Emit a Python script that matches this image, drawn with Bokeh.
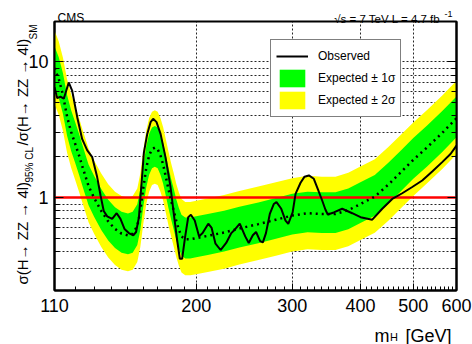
from bokeh.plotting import figure
from bokeh.layouts import column, row
from bokeh.models import (FixedTicker, PrintfTickFormatter, LogAxis, Label,
                          Legend, LegendItem, Range1d)
from bokeh.embed import file_html
from bokeh.resources import INLINE

# ---------------- data ----------------
mass_band = [110, 112, 114, 116, 118, 120, 122, 124, 127, 130, 134, 138, 142, 146,
             150, 153, 156, 158, 160, 162, 164, 166, 168, 170, 172, 174, 176, 178,
             180, 182, 184, 186, 188, 191, 195, 200, 210, 225, 240, 260, 280, 300,
             320, 340, 360, 380, 400, 425, 450, 475, 500, 530, 565, 600]
exp_median = [9.0, 7.5, 5.7, 3.95, 3.05, 2.5, 2.05, 1.65, 1.22, 1.0, 0.80, 0.67, 0.59, 0.545,
              0.53, 0.545, 0.62, 0.80, 1.18, 1.65, 2.05, 2.28, 2.34, 2.28, 2.05, 1.75, 1.42, 1.15,
              0.95, 0.80, 0.67, 0.58, 0.52, 0.495, 0.495, 0.505, 0.525, 0.555, 0.595, 0.64, 0.69, 0.74,
              0.77, 0.76, 0.76, 0.81, 0.90, 1.02, 1.25, 1.55, 1.9, 2.35, 3.0, 3.85]
exp_2s_lo = [4.89, 4.07, 3.10, 2.14, 1.66, 1.36, 1.11, 0.896, 0.662, 0.543, 0.434, 0.364, 0.320, 0.296,
             0.288, 0.296, 0.337, 0.434, 0.641, 0.896, 1.11, 1.24, 1.27, 1.24, 1.11, 0.950, 0.771, 0.624,
             0.516, 0.434, 0.364, 0.315, 0.282, 0.269, 0.269, 0.274, 0.285, 0.301, 0.323, 0.348, 0.375, 0.402,
             0.418, 0.413, 0.413, 0.440, 0.489, 0.554, 0.679, 0.842, 1.03, 1.28, 1.63, 2.09]
exp_1s_lo = [6.52, 5.43, 4.13, 2.86, 2.21, 1.81, 1.48, 1.19, 0.883, 0.724, 0.579, 0.485, 0.427, 0.395,
             0.384, 0.395, 0.449, 0.579, 0.854, 1.19, 1.48, 1.65, 1.69, 1.65, 1.48, 1.27, 1.03, 0.833,
             0.688, 0.579, 0.485, 0.420, 0.376, 0.358, 0.358, 0.366, 0.380, 0.402, 0.431, 0.463, 0.500, 0.536,
             0.557, 0.550, 0.550, 0.586, 0.652, 0.738, 0.905, 1.12, 1.38, 1.70, 2.17, 2.79]
exp_1s_hi = [13.0, 10.8, 8.24, 5.71, 4.41, 3.61, 2.96, 2.38, 1.76, 1.45, 1.16, 0.968, 0.853, 0.788,
             0.766, 0.788, 0.896, 1.16, 1.71, 2.38, 2.96, 3.29, 3.38, 3.29, 2.96, 2.53, 2.05, 1.66,
             1.37, 1.16, 0.968, 0.838, 0.751, 0.715, 0.715, 0.730, 0.759, 0.802, 0.860, 0.925, 0.997, 1.07,
             1.11, 1.10, 1.10, 1.17, 1.30, 1.47, 1.81, 2.24, 2.75, 3.40, 4.34, 5.56]
exp_2s_hi = [17.0, 14.1, 10.7, 7.44, 5.75, 4.71, 3.86, 3.11, 2.30, 1.88, 1.51, 1.26, 1.11, 1.03,
             1.00, 1.03, 1.17, 1.51, 2.22, 3.11, 3.86, 4.30, 4.41, 4.30, 3.86, 3.30, 2.68, 2.17,
             1.79, 1.51, 1.26, 1.09, 0.980, 0.933, 0.933, 0.951, 0.989, 1.05, 1.12, 1.21, 1.30, 1.39,
             1.45, 1.43, 1.43, 1.53, 1.70, 1.92, 2.36, 2.92, 3.58, 4.43, 5.65, 7.25]

mass_obs = [110, 111.3, 112.8, 114.4, 116.8, 118.5, 121.1, 123.6, 126.3, 129.0, 131.7, 133.6,
            135.4, 137.4, 140.3, 143.0, 145.3, 147.8, 150.5, 153.4, 155.2, 157.1, 158.8, 160.4,
            162.7, 165.0, 166.8, 169.2, 172.1, 175.7, 179.5, 182.0, 184.6, 186.7, 188.5, 190.8,
            193.4, 195.6, 198.8, 202.5, 205.5, 210.5, 213.5, 217.0, 221.7, 227.0, 232.0, 236.0,
            240.4, 246.0, 249.7, 254.0, 257.5, 262.0, 265.0, 268.5, 272.9, 277.5, 280.7, 286.4,
            291.6, 295.0, 300.5, 304.2, 310.7, 316.0, 321.8, 328.6, 334.2, 340.4, 345.0, 348.5,
            357.5, 370.4, 386.4, 400.2, 420.5, 438.6, 457.5, 477.2, 497.8, 519.2, 541.6, 564.9,
            585.0, 600.0]
obs_limit = [6.5, 5.4, 5.55, 5.35, 7.05, 6.15, 3.9, 2.71, 2.23, 1.99, 1.42, 1.04,
             0.80, 0.73, 0.70, 0.77, 0.70, 0.59, 0.55, 0.53, 0.56, 0.72, 1.27, 2.15,
             2.95, 3.6, 3.81, 3.6, 2.95, 1.99, 1.2, 0.76, 0.485, 0.356, 0.356, 0.51,
             0.72, 0.75, 0.68, 0.52, 0.55, 0.645, 0.60, 0.46, 0.413, 0.465, 0.55, 0.59,
             0.645, 0.52, 0.465, 0.53, 0.56, 0.48, 0.47, 0.55, 0.76, 0.9, 0.93, 0.83,
             0.68, 0.644, 0.78, 1.07, 1.29, 1.43, 1.46, 1.38, 1.16, 0.955, 0.82, 0.754,
             0.78, 0.83, 0.77, 0.72, 0.69, 0.83, 0.98, 1.08, 1.2, 1.34, 1.56, 1.83,
             2.1, 2.42]

sm_reference = [1.0]

x_major_ticks = [110, 200, 300, 400, 500, 600]
x_minor_ticks = [m for m in range(120, 600, 10) if m not in x_major_ticks]
x_grid_ticks = [200, 300, 400, 500]
y_major_ticks = [1, 10]
y_minor_ticks = [0.3, 0.4, 0.5, 0.6, 0.7, 0.8, 0.9, 2, 3, 4, 5, 6, 7, 8, 9]
y_grid_ticks = [0.3, 0.4, 0.5, 0.6, 0.7, 0.8, 0.9, 1, 2, 3, 4, 5, 6, 7, 8, 9, 10]

FONT = "Liberation Sans"
W, H = 472, 344
BL, BR, BT, BB = 54, 16, 21, 54      # borders around the plotting frame

# ---------------- main plot ----------------
p = figure(width=W, height=H, x_axis_type="log", y_axis_type="log",
           x_range=Range1d(110, 600), y_range=Range1d(0.208, 19.8),
           output_backend="svg", toolbar_location=None,
           min_border_left=BL, min_border_right=BR, min_border_top=BT, min_border_bottom=BB)
p.outline_line_color = "black"
p.outline_line_width = 2
p.background_fill_color = "white"
p.border_fill_color = "white"

yellow = p.varea(x=mass_band, y1=exp_2s_lo, y2=exp_2s_hi, fill_color="#ffff00")
green = p.varea(x=mass_band, y1=exp_1s_lo, y2=exp_1s_hi, fill_color="#00ff00")
p.hspan(y=sm_reference, line_color="#ff0000", line_width=2.5)
exp_line = p.line(mass_band, exp_median, line_color="black", line_width=2.5, line_dash="2 4")
obs_line = p.line(mass_obs, obs_limit, line_color="black", line_width=2)
exp_proxy = p.line(x=[], y=[], line_color="black", line_width=2.5, line_dash="5 3")

p.xgrid.ticker = FixedTicker(ticks=x_grid_ticks)
p.ygrid.ticker = FixedTicker(ticks=y_grid_ticks)
for g in (p.xgrid[0], p.ygrid[0]):
    g.grid_line_color = "black"
    g.grid_line_dash = "2 2"
    g.grid_line_width = 1
    g.grid_line_alpha = 0.85

def style_axis(ax, major_in, minor_in):
    ax.axis_line_color = "black"
    ax.axis_line_width = 2
    ax.major_tick_in = major_in
    ax.major_tick_out = 0
    ax.minor_tick_in = minor_in
    ax.minor_tick_out = 0
    ax.major_tick_line_color = "black"
    ax.minor_tick_line_color = "black"
    ax.major_label_text_font = FONT
    ax.major_label_text_font_size = "18px"
    ax.major_label_text_color = "black"

xax = p.xaxis[0]
xax.ticker = FixedTicker(ticks=x_major_ticks, minor_ticks=x_minor_ticks)
xax.formatter = PrintfTickFormatter(format="%d")
style_axis(xax, 7, 4)
xax.major_label_standoff = 8

yax = p.yaxis[0]
yax.ticker = FixedTicker(ticks=y_major_ticks, minor_ticks=y_minor_ticks)
yax.formatter = PrintfTickFormatter(format="%d")
style_axis(yax, 9, 5)
yax.major_label_standoff = 6

ray = LogAxis(ticker=FixedTicker(ticks=y_major_ticks, minor_ticks=y_minor_ticks))
style_axis(ray, 9, 5)
ray.major_label_text_font_size = "8px"
ray.major_label_text_color = None
ray.major_label_standoff = 0
p.add_layout(ray, "right")

legend = Legend(items=[
    LegendItem(label="Observed", renderers=[obs_line]),
    LegendItem(label="Expected ± 1σ", renderers=[green, exp_proxy]),
    LegendItem(label="Expected ± 2σ", renderers=[yellow, exp_proxy]),
], location=(216, 173))
legend.padding = 5
legend.spacing = 0
legend.glyph_width = 32
legend.glyph_height = 22
legend.label_standoff = 10
legend.label_text_font = FONT
legend.label_text_font_size = "12px"
legend.label_text_color = "black"
legend.border_line_color = "black"
legend.border_line_width = 1
legend.background_fill_color = "white"
legend.background_fill_alpha = 1
p.add_layout(legend)

# ---------------- transparent overlays carrying the texts outside the frame ----------------
def make_overlay(xr, yr, bl, br, bt, bb, margin):
    ov = figure(width=W, height=H, x_range=xr, y_range=yr,
                output_backend="svg", toolbar_location=None,
                min_border_left=bl, min_border_right=br, min_border_top=bt, min_border_bottom=bb,
                x_axis_location=None, y_axis_location=None)
    ov.grid.visible = False
    ov.outline_line_color = None
    ov.background_fill_color = None
    ov.border_fill_color = None
    ov.margin = margin
    return ov

# overlay sharing the main frame's top/bottom borders: data units == page pixels
ov_y = make_overlay(Range1d(0, W), Range1d(H - BB, BT), 0, 0, BT, BB, (0, 0, 0, -W))
# overlay sharing the main frame's left/right borders: data units == page pixels
ov_x = make_overlay(Range1d(BL, W - BR), Range1d(H, 0), BL, BR, 0, 0, (-H, 0, 0, 0))

def add_text(fig, text, x, y, size, angle=0.0, align="left"):
    fig.add_layout(Label(x=x, y=y, text=text, angle=angle, text_font=FONT,
                         text_font_size=f"{size}px", text_align=align,
                         text_baseline="alphabetic", text_color="black"))

add_text(ov_x, "CMS", 57, 17, 12)
add_text(ov_x, "√s = 7 TeV  L = 4.7 fb", 443, 18, 11.5, align="right")
add_text(ov_x, "-1", 444, 13, 9)
add_text(ov_x, "m", 389, 335, 18, align="right")
add_text(ov_x, "H", 389.5, 336, 11)
add_text(ov_x, "[GeV]", 451, 335, 18, align="right")

ang = 1.5707963267948966
add_text(ov_y, "σ(H→ ZZ → 4l)", 21.5, 284, 15, angle=ang)
add_text(ov_y, "95% CL", 29, 182, 10, angle=ang)
add_text(ov_y, "/σ(H→ ZZ → 4l)", 21.5, 145, 15, angle=ang)
add_text(ov_y, "SM", 33, 39, 10, angle=ang)

layout = column(row(p, ov_y, spacing=0), ov_x, spacing=0)
open("out.html", "w").write(file_html(layout, INLINE))
